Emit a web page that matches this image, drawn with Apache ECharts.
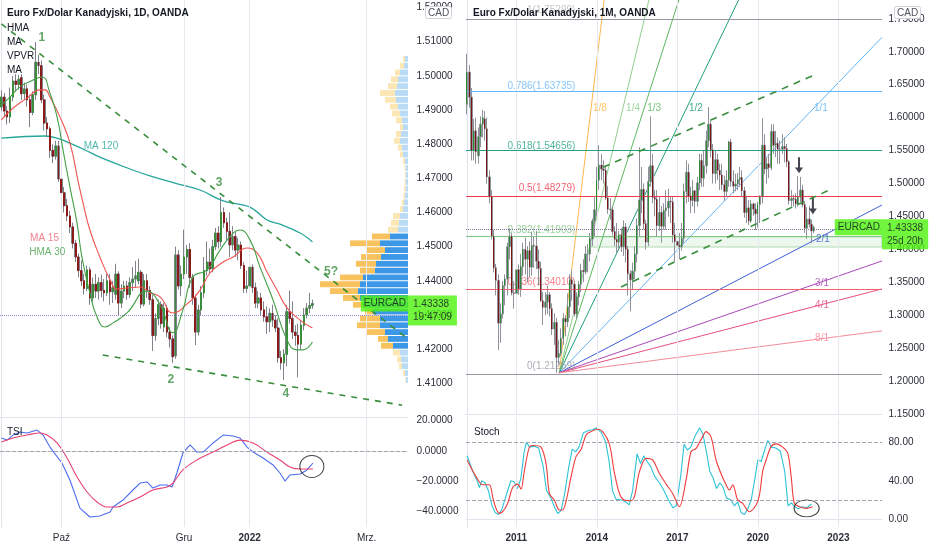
<!DOCTYPE html>
<html><head><meta charset="utf-8">
<script src="https://cdn.jsdelivr.net/npm/echarts@6/dist/echarts.min.js"></script>
<style>html,body{margin:0;padding:0;background:#fff}#c{width:932px;height:550px}</style>
</head><body><div id="c"></div>
<script>
// ---------------- LEFT PANEL (1D) ----------------
const leftStart = '2021-09-02';
const leftSlots = 143;
const leftTickIdx = [21, 64, 87, 128];
const leftTickText = ['Paź', 'Gru', '2022', 'Mrz.'];
// [open, close, low, high]
const leftOHLC = [
[1.4909,1.4938,1.4898,1.4958],[1.4938,1.4897,1.4880,1.4950],[1.4897,1.4880,1.4858,1.4912],[1.4880,1.4938,1.4862,1.4966],
[1.4938,1.4985,1.4925,1.5000],[1.4985,1.4975,1.4955,1.5005],[1.4975,1.4990,1.4960,1.5003],[1.4995,1.4948,1.4930,1.5005],
[1.4948,1.4962,1.4930,1.4980],[1.4962,1.4930,1.4910,1.4975],[1.4930,1.4893,1.4850,1.4945],[1.4893,1.4945,1.4885,1.4955],
[1.4945,1.5040,1.4930,1.5099],[1.5040,1.5030,1.5005,1.5062],[1.5030,1.4930,1.4920,1.5045],[1.4930,1.4862,1.4840,1.4945],
[1.4862,1.4845,1.4820,1.4880],[1.4845,1.4782,1.4760,1.4852],[1.4782,1.4765,1.4745,1.4800],[1.4765,1.4795,1.4755,1.4810],
[1.4795,1.4698,1.4690,1.4810],[1.4698,1.4658,1.4645,1.4715],[1.4658,1.4620,1.4600,1.4675],[1.4620,1.4590,1.4575,1.4640],
[1.4590,1.4558,1.4540,1.4605],[1.4558,1.4510,1.4495,1.4570],[1.4510,1.4470,1.4455,1.4520],[1.4470,1.4430,1.4410,1.4480],
[1.4430,1.4400,1.4385,1.4460],[1.4400,1.4378,1.4360,1.4420],[1.4378,1.4432,1.4370,1.4445],[1.4432,1.4350,1.4330,1.4440],
[1.4350,1.4390,1.4338,1.4410],[1.4390,1.4370,1.4350,1.4420],[1.4370,1.4395,1.4345,1.4410],[1.4395,1.4372,1.4352,1.4418],
[1.4372,1.4365,1.4340,1.4405],[1.4365,1.4400,1.4355,1.4420],[1.4400,1.4368,1.4330,1.4420],[1.4368,1.4380,1.4335,1.4400],
[1.4360,1.4420,1.4345,1.4450],[1.4420,1.4335,1.4300,1.4428],[1.4335,1.4370,1.4320,1.4390],[1.4370,1.4385,1.4350,1.4400],
[1.4385,1.4360,1.4345,1.4400],[1.4360,1.4395,1.4350,1.4410],[1.4395,1.4405,1.4370,1.4440],[1.4405,1.4415,1.4380,1.4458],
[1.4400,1.4425,1.4390,1.4465],[1.4425,1.4332,1.4320,1.4432],[1.4332,1.4400,1.4325,1.4420],[1.4400,1.4372,1.4350,1.4420],
[1.4372,1.4345,1.4330,1.4385],[1.4345,1.4240,1.4195,1.4360],[1.4240,1.4290,1.4225,1.4305],[1.4290,1.4330,1.4270,1.4345],
[1.4330,1.4275,1.4260,1.4340],[1.4265,1.4320,1.4250,1.4335],[1.4320,1.4250,1.4235,1.4330],[1.4250,1.4230,1.4205,1.4265],
[1.4230,1.4178,1.4160,1.4240],[1.4180,1.4476,1.4172,1.4500],[1.4476,1.4385,1.4375,1.4490],[1.4385,1.4420,1.4355,1.4445],
[1.4420,1.4470,1.4405,1.4550],[1.4470,1.4492,1.4420,1.4505],[1.4492,1.4410,1.4380,1.4510],[1.4410,1.4350,1.4330,1.4420],
[1.4350,1.4250,1.4212,1.4360],[1.4250,1.4315,1.4240,1.4330],[1.4315,1.4365,1.4300,1.4385],[1.4365,1.4430,1.4350,1.4470],
[1.4430,1.4455,1.4415,1.4515],[1.4455,1.4435,1.4420,1.4495],[1.4435,1.4500,1.4425,1.4520],[1.4500,1.4540,1.4490,1.4555],
[1.4540,1.4515,1.4495,1.4560],[1.4515,1.4600,1.4500,1.4645],[1.4600,1.4570,1.4555,1.4615],[1.4570,1.4545,1.4520,1.4585],
[1.4545,1.4505,1.4470,1.4600],[1.4505,1.4530,1.4490,1.4560],[1.4530,1.4490,1.4470,1.4545],[1.4490,1.4505,1.4460,1.4525],
[1.4505,1.4445,1.4435,1.4515],[1.4445,1.4378,1.4365,1.4455],[1.4378,1.4385,1.4365,1.4430],[1.4385,1.4440,1.4375,1.4452],
[1.4440,1.4380,1.4365,1.4448],[1.4380,1.4335,1.4320,1.4395],[1.4335,1.4350,1.4320,1.4370],[1.4350,1.4315,1.4300,1.4365],
[1.4315,1.4295,1.4280,1.4340],[1.4295,1.4280,1.4245,1.4325],[1.4280,1.4305,1.4250,1.4320],[1.4305,1.4285,1.4265,1.4330],
[1.4285,1.4262,1.4250,1.4300],[1.4262,1.4175,1.4160,1.4290],[1.4175,1.4160,1.4140,1.4195],[1.4160,1.4185,1.4110,1.4200],
[1.4185,1.4310,1.4150,1.4330],[1.4310,1.4290,1.4275,1.4372],[1.4290,1.4250,1.4230,1.4340],[1.4250,1.4240,1.4210,1.4270],
[1.4240,1.4215,1.4118,1.4275],[1.4215,1.4270,1.4200,1.4285],[1.4270,1.4300,1.4255,1.4320],[1.4300,1.4320,1.4290,1.4335],
[1.4320,1.4328,1.4305,1.4365],[1.4328,1.43338,1.4318,1.4345]
];
const ma15 = [[0,1.4871],[4.1,1.4906],[9,1.4935],[13.5,1.4959],[15.3,1.4959],[17,1.4938],[20.5,1.4880],[24,1.4804],[26.8,1.4695],[28.6,1.4628],[31,1.4549],[34.5,1.4470],[38.1,1.4403],[40.5,1.4376],[44,1.4379],[48.6,1.4382],[52.1,1.4365],[55.6,1.4353],[60.1,1.4306],[65,1.4332],[69.6,1.4373],[73.1,1.4423],[77.7,1.4455],[81.2,1.4470],[86.1,1.4496],[89.6,1.4482],[93.1,1.4426],[96.6,1.4373],[100.1,1.4321],[104.7,1.4285],[109,1.4262]];
const hma30 = [[0,1.4915],[3,1.4938],[6.5,1.4968],[11.1,1.4988],[14.2,1.4997],[17,1.4950],[19.5,1.4880],[21.6,1.4783],[24,1.4675],[26.5,1.4569],[28.2,1.4470],[31,1.4365],[33.5,1.4294],[36.3,1.4265],[39.1,1.4277],[44,1.4306],[51,1.4370],[55.6,1.4330],[60.1,1.4248],[63.6,1.4315],[67.1,1.4411],[72.1,1.4432],[76.6,1.4490],[81.2,1.4540],[83.6,1.4549],[87.1,1.4520],[90.6,1.4441],[95.2,1.4344],[100.1,1.4227],[103.6,1.4198],[105.7,1.4198],[109,1.4221]];
const ma120 = [[0,1.4818],[15.3,1.4824],[20.5,1.4815],[24,1.4803],[29.3,1.4783],[34.5,1.4762],[43.3,1.4733],[52.1,1.4707],[60.8,1.4686],[69.6,1.4666],[77.7,1.4634],[87.1,1.4616],[93.1,1.4578],[97.6,1.4566],[104.7,1.4540],[109,1.4514]];
const trendUpperL = [[0,1.5152],[142,1.4233]];
const trendLowerL = [[35.5,1.4183],[140.4,1.4036]];
const waveText = ['1','2','3','4','5?'];
const waveAt = [[14.2,1.5111],[59.4,1.4110],[76.3,1.4686],[99.7,1.4069],[115.5,1.4426]];
const maLabelText = ['MA 120','MA 15','HMA 30'];
const maLabelAt = [[34.9,1.4795],[15.1,1.4526],[16.1,1.4485]];
const maLabelColor = ['#26a69a','#ef5f6f','#43a047'];
// volume profile (row low edge, up volume, down volume)
const vpStep = 0.002;
const vpLevels = [1.410,1.412,1.414,1.416,1.418,1.420,1.422,1.424,1.426,1.428,1.430,1.432,1.434,1.436,1.438,1.440,1.442,1.444,1.446,1.448,1.450,1.452,1.454,1.456,1.458,1.460,1.462,1.464,1.466,1.468,1.470,1.472,1.474,1.476,1.478,1.480,1.482,1.484,1.486,1.488,1.490,1.492,1.494,1.496,1.498,1.500,1.502,1.504];
const vpUp   = [2,3,6,7,8,15,20,23,28,28,35,45,48,50,48,45,33,32,27,23,28,18,10,9,8,5,4,3,2.5,2.5,2,2.5,3,5,6,8,7,5,6,8,10,12,13,11,10,8,4,3];
const vpDown = [0.5,2,3,4,7,12,10,18,23,20,8,10,17,28,40,23,15,20,20,18,30,18,10,8,7,3,2,1.5,1.5,1,1,1,2,3,4,6,5,3,6,8,8,11,15,9,7,5,4,2];
const vaLow = 1.420, vaHigh = 1.454;
const tsiLine = [[0,8.6],[2,7.2],[4.1,10.5],[6.5,12.5],[9,11.9],[12.5,13.8],[14.6,10.5],[17,2.6],[21.2,-7.9],[24,-19.1],[27.5,-37.6],[31,-43.5],[34.5,-42.8],[38.1,-40.2],[39.1,-36.9],[42.6,-32.3],[46.1,-25.7],[48.6,-21.1],[51,-20.4],[53.1,-24.4],[55.6,-22.4],[58,-22.4],[59.8,-23.7],[61.5,-14.5],[63.6,-1.3],[66.1,4.0],[68.5,-0.7],[70.7,-0.7],[74.2,5.3],[77.7,10.5],[81.2,9.9],[83.6,8.6],[86.1,2.6],[88.2,-0.7],[91.7,-4.6],[95.2,-9.2],[97.6,-14.5],[99.4,-19.8],[101.1,-15.8],[104.7,-15.2],[107.1,-12.5],[109.2,-7.9]];
const tsiSignal = [[0,5.9],[4.1,8.6],[9,10.5],[13.5,11.9],[16,10.5],[19.5,5.3],[23,-4.6],[26.5,-17.1],[30,-27.0],[33.5,-33.6],[37,-36.9],[40.5,-36.9],[44,-34.3],[48.6,-30.3],[53.1,-25.7],[58,-23.7],[60.1,-21.1],[63.6,-12.5],[68.5,-5.9],[74.2,-0.7],[79.1,4.0],[83.6,7.2],[88.2,5.3],[93.1,-0.7],[97.6,-5.9],[101.1,-10.5],[104.7,-11.9],[109.2,-11.9]];
const tsiCircle = [108.8, -10.2];
const lastPrice = 1.43338;

// ---------------- RIGHT PANEL (1M) ----------------
const rightStart = [2009, 3];
const rightSlots = 186;
const rightTickIdx = [22, 58, 94, 130, 166];
const rightTickText = ['2011', '2014', '2017', '2020', '2023'];
const rightOHLC = [
[1.620,1.669,1.605,1.697],[1.669,1.631,1.615,1.680],[1.631,1.550,1.535,1.645],[1.550,1.580,1.535,1.598],[1.580,1.548,1.530,1.600],
[1.542,1.571,1.530,1.585],[1.571,1.590,1.555,1.602],[1.590,1.600,1.570,1.612],[1.598,1.583,1.565,1.610],[1.583,1.510,1.500,1.600],
[1.510,1.480,1.470,1.520],[1.480,1.420,1.415,1.490],[1.420,1.372,1.365,1.430],[1.372,1.353,1.330,1.378],[1.353,1.288,1.247,1.362],
[1.288,1.302,1.258,1.318],[1.302,1.345,1.295,1.352],[1.345,1.355,1.315,1.362],[1.355,1.404,1.330,1.410],[1.404,1.420,1.385,1.432],
[1.420,1.334,1.330,1.425],[1.334,1.333,1.310,1.352],[1.333,1.369,1.320,1.375],[1.369,1.340,1.331,1.377],[1.340,1.374,1.328,1.393],
[1.374,1.400,1.360,1.410],[1.400,1.385,1.362,1.418],[1.385,1.398,1.350,1.405],[1.398,1.373,1.358,1.412],[1.373,1.406,1.360,1.427],
[1.406,1.405,1.372,1.420],[1.405,1.382,1.370,1.428],[1.382,1.371,1.345,1.400],[1.371,1.322,1.320,1.381],[1.322,1.312,1.285,1.335],
[1.312,1.320,1.300,1.335],[1.320,1.331,1.302,1.345],[1.331,1.310,1.298,1.335],[1.310,1.279,1.270,1.318],[1.279,1.289,1.255,1.303],
[1.289,1.236,1.2126,1.296],[1.236,1.242,1.225,1.262],[1.242,1.265,1.238,1.280],[1.265,1.295,1.255,1.303],[1.295,1.290,1.268,1.300],
[1.290,1.313,1.282,1.333],[1.313,1.354,1.296,1.362],[1.354,1.347,1.322,1.369],[1.347,1.302,1.298,1.352],[1.302,1.328,1.295,1.335],
[1.328,1.347,1.315,1.352],[1.347,1.368,1.335,1.378],[1.368,1.366,1.350,1.385],[1.366,1.393,1.362,1.405],[1.393,1.393,1.365,1.408],
[1.393,1.416,1.382,1.425],[1.416,1.443,1.405,1.447],[1.443,1.460,1.420,1.479],[1.460,1.505,1.450,1.525],[1.505,1.528,1.490,1.558],
[1.528,1.522,1.505,1.545],[1.522,1.520,1.500,1.535],[1.520,1.478,1.475,1.527],[1.478,1.461,1.454,1.496],[1.461,1.460,1.445,1.478],
[1.460,1.427,1.421,1.466],[1.427,1.415,1.405,1.435],[1.415,1.411,1.393,1.440],[1.411,1.422,1.400,1.428],[1.422,1.404,1.396,1.432],
[1.404,1.434,1.390,1.444],[1.434,1.400,1.380,1.440],[1.400,1.363,1.330,1.405],[1.363,1.354,1.306,1.368],[1.354,1.367,1.338,1.380],
[1.367,1.393,1.355,1.405],[1.393,1.436,1.380,1.447],[1.436,1.475,1.420,1.555],[1.475,1.491,1.455,1.525],[1.491,1.439,1.430,1.500],
[1.439,1.411,1.400,1.445],[1.411,1.503,1.405,1.525],[1.503,1.527,1.495,1.602],[1.527,1.479,1.470,1.545],[1.479,1.476,1.450,1.490],
[1.476,1.436,1.420,1.490],[1.436,1.456,1.428,1.480],[1.456,1.435,1.410,1.466],[1.435,1.459,1.430,1.470],[1.459,1.463,1.430,1.490],
[1.463,1.473,1.450,1.492],[1.473,1.472,1.440,1.480],[1.472,1.422,1.410,1.480],[1.422,1.412,1.381,1.440],[1.412,1.406,1.390,1.420],
[1.406,1.404,1.385,1.425],[1.404,1.417,1.398,1.440],[1.417,1.488,1.410,1.500],[1.488,1.517,1.470,1.535],[1.517,1.481,1.472,1.530],
[1.481,1.474,1.455,1.495],[1.474,1.489,1.465,1.505],[1.489,1.473,1.455,1.490],[1.473,1.501,1.465,1.510],[1.501,1.535,1.490,1.545],
[1.535,1.508,1.495,1.545],[1.508,1.527,1.495,1.550],[1.527,1.565,1.515,1.580],[1.565,1.590,1.555,1.616],[1.590,1.551,1.540,1.595],
[1.551,1.515,1.500,1.560],[1.515,1.536,1.500,1.550],[1.536,1.520,1.505,1.545],[1.520,1.513,1.490,1.530],[1.513,1.498,1.490,1.530],
[1.498,1.488,1.474,1.512],[1.488,1.505,1.480,1.520],[1.505,1.563,1.495,1.565],[1.563,1.503,1.495,1.568],[1.503,1.496,1.485,1.520],
[1.496,1.499,1.488,1.515],[1.499,1.506,1.490,1.516],[1.506,1.509,1.495,1.525],[1.509,1.489,1.480,1.520],[1.489,1.456,1.448,1.495],
[1.456,1.463,1.440,1.480],[1.463,1.443,1.437,1.475],[1.443,1.469,1.440,1.475],[1.469,1.461,1.451,1.471],[1.461,1.454,1.429,1.470],
[1.454,1.468,1.433,1.472],[1.468,1.480,1.440,1.482],[1.480,1.558,1.470,1.599],[1.558,1.522,1.514,1.575],[1.522,1.530,1.500,1.540],
[1.530,1.524,1.508,1.545],[1.524,1.579,1.520,1.590],[1.579,1.558,1.545,1.590],[1.558,1.561,1.540,1.580],[1.561,1.552,1.530,1.570],
[1.552,1.552,1.530,1.565],[1.552,1.556,1.545,1.575],[1.556,1.553,1.532,1.570],[1.553,1.533,1.525,1.560],[1.533,1.474,1.468,1.535],
[1.474,1.477,1.465,1.490],[1.477,1.476,1.465,1.483],[1.476,1.469,1.462,1.485],[1.469,1.480,1.465,1.511],[1.480,1.490,1.472,1.510],
[1.490,1.468,1.464,1.498],[1.468,1.432,1.425,1.473],[1.432,1.446,1.416,1.464],[1.446,1.438,1.433,1.466],[1.438,1.428,1.410,1.445],
[1.428,1.43338,1.4245,1.436]
];
const fibRatio = ['1','0.786','0.618','0.5','0.382','0.236','0'];
const fibPrice = [1.75299,1.63735,1.54656,1.48279,1.41903,1.34010,1.21259];
const fibColor = ['#9598a1','#64b5f6','#22a07f','#ef3b4c','#81c784','#f4606c','#9598a1'];
const fibLabelX = 48.4;
const boxFrom = [55.4, 1.41903], boxTo = [185.5, 1.4035];
const fanNames = ['1/8','1/4','1/3','1/2','1/1','2/1','3/1','4/1','8/1'];
const fanOrigin = [41.2, 1.21259];
const fanEnd = [[62.0,1.80],[82.8,1.80],[96.7,1.80],[124.4,1.80],[185.5,1.7220],[185.5,1.4673],[185.5,1.3824],[185.5,1.3399],[185.5,1.2763]];
const fanColor = ['#ffb74d','#8fcf8f','#5cb85f','#1f9e7a','#64b5f6','#3f5fd8','#ab47bc','#e94f7d','#f28b9a'];
const fanLabelAt = [[59.4,1.614],[74.2,1.614],[83.6,1.614],[102.3,1.614],[158.2,1.614],[159.1,1.4156],[158.7,1.349],[158.7,1.3156],[158.7,1.2656]];
const channelUpper = [[60.8,1.5247],[154.7,1.6641]];
const channelLower = [[68.8,1.3429],[163.6,1.4929]];
const arrowsAt = [[148.4,1.5277],[154.6,1.4656]];
const stochD = [[0,61.6],[4,44.3],[7,35.9],[10,35.9],[11.4,23.5],[12.9,11.4],[14.4,6.2],[15.9,7.9],[18.1,16.5],[20.4,33.2],[22.6,36.6],[24.1,31.4],[25.6,50.5],[27.8,75],[29.3,76.7],[33,75],[35.3,57.8],[36.8,26.8],[39,20],[41.2,9.7],[42.7,9.7],[44.2,18.4],[46.5,44.3],[48.7,65.1],[51,72.7],[53.2,87.6],[55.4,91.1],[58.4,93.5],[60.6,91.1],[63.6,78.4],[65.8,49],[68.1,26.8],[70.3,20],[73.3,19.3],[74.8,23.5],[77,49],[80,63.3],[83,61.6],[86,47.6],[89,36.6],[91.9,26.8],[94.9,13.1],[97.9,40.9],[100.1,70.2],[102.4,73.7],[105.3,85.9],[106.8,91.1],[109,85.9],[111.3,61.6],[113.5,47.6],[115.8,35.9],[117.3,30.4],[118.8,35.9],[121,20],[123.2,16.5],[126.2,7.9],[129.2,14.8],[130.7,25.1],[132.2,50.5],[133.7,61.6],[135.9,75.5],[138.1,78.4],[141.1,75],[143.4,68.5],[144.9,44.3],[146.3,16.5],[148.6,13.1],[151.6,11.4],[154.5,13.1]];
const stochK = [[0,66],[2.5,50],[4.5,40],[5.5,33],[6.5,40],[8,38],[9.5,30],[11,15],[12.5,7],[14,5],[15.5,10],[17.5,25],[19.5,40],[21,39],[22.5,32],[24,42],[25.5,70],[26.5,80],[28,75],[30,76],[32,74],[34,55],[35.5,30],[37.5,22],[39,13],[40.5,6],[42,9],[43.5,25],[45.5,55],[47,73],[48.5,70],[50,75],[52,90],[54,92],[56,93],[58,95],[60,90],[62,80],[63.5,60],[65,30],[66.5,21],[69,20],[71,18],[72.5,15],[74,30],[76,68],[77.5,58],[79,66],[80.5,60],[82,55],[84,44],[86,38],[88,30],[90,20],[92,12],[93.5,14],[95.5,45],[97,78],[98.5,72],[100,75],[102,87],[104,95],[105.5,88],[107,70],[108.5,50],[110,43],[111.5,32],[113,38],[114.5,33],[116,22],[118,20],[119.5,14],[121,18],[122.5,7],[124,5],[125.5,11],[127,20],[128.5,40],[130,62],[131.5,60],[133,72],[134.5,82],[136,75],[138,74],[140,71],[142,50],[143.5,14],[145,17],[146.5,13],[148,11],[150,13],[152,12],[154,16]];
const stochCircle = [151.8, 11.4];
const stochBands = [80, 20];

// ---------------- helpers ----------------
const FONT = "'Liberation Sans', Arial, sans-serif";
const GRIDC = '#e6e8ee', EDGE = '#e0e3eb', TXT = '#2a2e39', LIME = '#4df20c';
function weekdays(start, n) {
  const out = []; const d = new Date(start + 'T00:00:00Z');
  while (out.length < n) { const w = d.getUTCDay(); if (w !== 0 && w !== 6) out.push(d.toISOString().slice(0, 10)); d.setUTCDate(d.getUTCDate() + 1); }
  return out;
}
function months(ym, n) {
  const out = []; let y = ym[0], m = ym[1];
  for (let k = 0; k < n; k++) { out.push(y + '-' + String(m).padStart(2, '0')); m++; if (m > 12) { m = 1; y++; } }
  return out;
}
function bodies(rows) { return rows.map(r => [r[0], r[1], Math.min(r[0], r[1]), Math.max(r[0], r[1])]); }
function vgrid(xi, yi, ticks) {
  return { type: 'line', xAxisIndex: xi, yAxisIndex: yi, data: [], z: 1, silent: true,
    markLine: { silent: true, animation: false, symbol: ['none', 'none'], label: { show: false },
      lineStyle: { color: GRIDC, width: 1, type: 'solid' }, data: ticks.map(t => ({ xAxis: t })) } };
}
function hlines(xi, yi, vals, color, type, z) {
  return { type: 'line', xAxisIndex: xi, yAxisIndex: yi, data: [], z: z || 2, silent: true,
    markLine: { silent: true, animation: false, symbol: ['none', 'none'], label: { show: false },
      lineStyle: { color: color, width: 1, type: type }, data: vals.map(v => ({ yAxis: v })) } };
}
function line(xi, yi, data, color, width, z, extra) {
  return Object.assign({ type: 'line', xAxisIndex: xi, yAxisIndex: yi, data: data, symbol: 'none', silent: true, z: z,
    lineStyle: { color: color, width: width }, animation: false }, extra || {});
}
function texts(xi, yi, items, z) {
  return { type: 'scatter', xAxisIndex: xi, yAxisIndex: yi, symbolSize: 0, silent: true, clip: false, z: z,
    data: items.map(it => ({ value: it.at, label: Object.assign({ show: true, formatter: it.t, position: 'inside',
      color: it.c, fontSize: 10, fontFamily: FONT, distance: 0 }, it.lab || {}) })) };
}
function catX(grid, cats, tickIdx, tickText, showLabels, bold) {
  return { type: 'category', gridIndex: grid, data: cats, boundaryGap: true,
    axisLine: { show: true, lineStyle: { color: EDGE } }, axisTick: { show: false }, splitLine: { show: false },
    axisLabel: { show: showLabels, interval: (i) => tickIdx.indexOf(i) >= 0, margin: 6,
      formatter: (v, i) => { const k = tickIdx.indexOf(i); if (k < 0) return ''; const t = tickText[k]; return bold(t) ? '{b|' + t + '}' : t; },
      color: TXT, fontSize: 10, fontFamily: FONT, rich: { b: { fontWeight: 'bold', fontSize: 10, color: TXT, fontFamily: FONT } } } };
}
function valX(grid, n) { return { type: 'value', gridIndex: grid, min: -0.5, max: n - 0.5, show: false }; }
function priceY(grid, min, max, extra, fmt, margin) {
  return Object.assign({ type: 'value', gridIndex: grid, position: 'right', min: min, max: max, scale: true,
    axisLine: { show: true, lineStyle: { color: EDGE } }, axisTick: { show: false }, splitLine: { show: false },
    axisLabel: { showMinLabel: false, showMaxLabel: false, margin: margin, color: TXT, fontSize: 10, fontFamily: FONT, formatter: fmt } }, extra);
}

const leftCats = weekdays(leftStart, leftSlots);
const rightCats = months(rightStart, rightSlots);
const isYear = t => /^\d{4}$/.test(t);

const candleGray = (xi, yi, data, w, fill, edge, z) => ({ type: 'candlestick', xAxisIndex: xi, yAxisIndex: yi, data: data, barWidth: w, silent: true, z: z,
  itemStyle: { color: fill, color0: fill, borderColor: edge, borderColor0: edge, borderWidth: 1 } });
const candleBody = (xi, yi, data, w, up, dn, z) => ({ type: 'candlestick', xAxisIndex: xi, yAxisIndex: yi, data: bodies(data), barWidth: w, silent: true, z: z,
  itemStyle: { color: up, color0: dn, borderColor: up, borderColor0: dn, borderWidth: 1 } });

const vpRender = function (params, api) {
  const p = api.value(0), up = api.value(1), dn = api.value(2);
  const base = api.coord([0, p]); const top = api.coord([0, p + vpStep]);
  const u = api.coord([up, p]); const d = api.coord([up + dn, p]);
  const y = top[1] + 0.5, h = Math.max(0.6, base[1] - top[1] - 1);
  const inVA = p >= vaLow - 1e-9 && p < vaHigh - 1e-9;
  return { type: 'group', children: [
    { type: 'rect', shape: { x: u[0], y: y, width: base[0] - u[0], height: h }, style: { fill: inVA ? '#3c98e6' : '#b9dbf6' } },
    { type: 'rect', shape: { x: d[0], y: y, width: u[0] - d[0], height: h }, style: { fill: inVA ? '#f8c35e' : '#fce6b4' } }
  ] };
};

const series = [
  // ===== left price pane =====
  vgrid(1, 0, leftTickIdx),
  { type: 'custom', xAxisIndex: 4, yAxisIndex: 0, z: 2, silent: true, renderItem: vpRender,
    encode: { x: [1, 2], y: 0 }, data: vpLevels.map((p, k) => [p, vpUp[k], vpDown[k]]) },
  line(1, 0, ma120, '#26a69a', 1.3, 3, { smooth: 0.4 }),
  candleGray(0, 0, leftOHLC, '75%', '#a9acb3', '#7f828b', 4),
  candleBody(0, 0, leftOHLC, '50%', '#3a8d3a', '#8b1a1a', 5),
  line(1, 0, ma15, '#ef5350', 1.1, 6, { smooth: 0.5 }),
  line(1, 0, hma30, '#43a047', 1.1, 6, { smooth: 0.5 }),
  line(1, 0, trendUpperL, '#388e3c', 1.6, 6, { lineStyle: { color: '#388e3c', width: 1.6, type: [6, 6] } }),
  line(1, 0, trendLowerL, '#388e3c', 1.6, 6, { lineStyle: { color: '#388e3c', width: 1.6, type: [6, 6] } }),
  hlines(1, 0, [lastPrice], '#9a86d6', 'dotted', 6),
  texts(1, 0, waveText.map((t, k) => ({ at: waveAt[k], t: t, c: '#388e3c', lab: { fontSize: 12, fontWeight: 'bold' } })), 7),
  texts(1, 0, maLabelText.map((t, k) => ({ at: maLabelAt[k], t: t, c: maLabelColor[k], lab: { fontSize: 10 } })), 7),
  texts(1, 0, [{ at: [leftSlots - 0.5, lastPrice], t: 'EURCAD', c: '#131722', lab: { position: 'left', backgroundColor: LIME, padding: [3, 2, 3, 3] } }], 9),
  texts(1, 0, [{ at: [leftSlots - 0.5, lastPrice], t: '1.43338\n19:47:09', c: '#131722', lab: { position: 'right', backgroundColor: LIME, padding: [2, 5, 2, 5], lineHeight: 13, offset: [0, 7], align: 'left' } }], 9),

  // ===== left TSI pane =====
  vgrid(3, 1, leftTickIdx),
  hlines(3, 1, [0], '#a3a6af', 'dashed', 2),
  line(3, 1, tsiLine, '#4d6cf0', 1.1, 4),
  line(3, 1, tsiSignal, '#e8436f', 1.1, 4, { smooth: 0.4 }),
  { type: 'scatter', xAxisIndex: 3, yAxisIndex: 1, silent: true, clip: false, z: 6, symbol: 'circle', symbolSize: [24, 22],
    itemStyle: { color: 'rgba(0,0,0,0)', borderColor: '#111', borderWidth: 1 }, data: [tsiCircle] },

  // ===== right price pane =====
  vgrid(6, 2, rightTickIdx),
  { type: 'line', xAxisIndex: 6, yAxisIndex: 2, data: [], z: 2, silent: true,
    markLine: { silent: true, animation: false, symbol: ['none', 'none'], label: { show: false },
      data: fibPrice.map((p, k) => ({ yAxis: p, lineStyle: { color: fibColor[k], width: k === 0 || k === 6 ? 1.2 : 1, type: 'solid' } })) },
    markArea: { silent: true, itemStyle: { color: 'rgba(129,199,132,0.14)', borderColor: 'rgba(129,199,132,0.6)', borderWidth: 1 },
      data: [[{ xAxis: boxFrom[0], yAxis: boxFrom[1] }, { xAxis: boxTo[0], yAxis: boxTo[1] }]] } },
  ...fanNames.map((n, k) => line(6, 2, [fanOrigin, fanEnd[k]], fanColor[k], 1, 3, { clip: true })),
  candleGray(5, 2, rightOHLC, '85%', '#bdbfc5', '#8f929a', 4),
  candleBody(5, 2, rightOHLC, '45%', '#2f8a34', '#7a1515', 5),
  line(6, 2, channelUpper, '#388e3c', 1.6, 6, { lineStyle: { color: '#388e3c', width: 1.6, type: [7, 6] } }),
  line(6, 2, channelLower, '#388e3c', 1.6, 6, { lineStyle: { color: '#388e3c', width: 1.6, type: [7, 6] } }),
  hlines(6, 2, [lastPrice], '#7d7397', 'dotted', 6),
  texts(6, 2, fibRatio.map((r, k) => ({ at: [fibLabelX, fibPrice[k]], t: r + '(' + fibPrice[k].toFixed(5) + ')',
    c: k === 0 ? '#b8bac0' : fibColor[k], lab: { position: 'left', offset: [0, -7], fontSize: 10 } })), 3),
  texts(6, 2, fanNames.map((n, k) => ({ at: fanLabelAt[k], t: n, c: fanColor[k], lab: { fontSize: 10, opacity: 0.85 } })), 6),
  { type: 'scatter', xAxisIndex: 6, yAxisIndex: 2, silent: true, clip: false, z: 7,
    symbol: 'path://M3,0 L5,0 L5,11 L8,11 L4,17 L0,11 L3,11 Z', symbolSize: [8, 16],
    itemStyle: { color: '#131722' }, data: arrowsAt },
  texts(6, 2, [{ at: [rightSlots - 0.5, lastPrice], t: 'EURCAD', c: '#131722', lab: { position: 'left', backgroundColor: LIME, padding: [3, 2, 3, 3] } }], 9),
  texts(6, 2, [{ at: [rightSlots - 0.5, lastPrice], t: '1.43338\n25d 20h', c: '#131722', lab: { position: 'right', backgroundColor: LIME, padding: [2, 5, 2, 5], lineHeight: 13, offset: [0, 7], align: 'left' } }], 9),

  // ===== right Stoch pane =====
  vgrid(8, 3, rightTickIdx),
  hlines(8, 3, stochBands, '#a3a6af', 'dashed', 2),
  line(8, 3, stochK, '#2cc3d6', 1.1, 4),
  line(8, 3, stochD, '#ef3b3b', 1.1, 5, { smooth: 0.3 }),
  { type: 'scatter', xAxisIndex: 8, yAxisIndex: 3, silent: true, clip: false, z: 6, symbol: 'circle', symbolSize: [25, 17],
    itemStyle: { color: 'rgba(0,0,0,0)', borderColor: '#111', borderWidth: 1 }, data: [stochCircle] }
];

const tTitle = { fontSize: 10, fontWeight: 'bold', color: '#131722', fontFamily: FONT };
const tNorm = { fontSize: 10, fontWeight: 'normal', color: '#131722', fontFamily: FONT };
const cadBox = (x) => ({ text: 'CAD', left: x, top: 6, padding: [2, 3, 1, 3], borderColor: '#cfd2da', borderWidth: 1, borderRadius: 2,
  backgroundColor: '#fff', textStyle: { fontSize: 10, fontWeight: 'normal', color: '#50535e', fontFamily: FONT } });

const option = {
  animation: false,
  backgroundColor: '#ffffff',
  textStyle: { fontFamily: FONT },
  title: [
    { text: 'Euro Fx/Dolar Kanadyjski, 1D, OANDA', left: 7, top: 8, padding: 0, textStyle: tTitle },
    { text: 'HMA', left: 7, top: 23, padding: 0, textStyle: tNorm },
    { text: 'MA', left: 7, top: 37, padding: 0, textStyle: tNorm },
    { text: 'VPVR', left: 7, top: 51, padding: 0, textStyle: tNorm },
    { text: 'MA', left: 7, top: 65, padding: 0, textStyle: tNorm },
    { text: 'Euro Fx/Dolar Kanadyjski, 1M, OANDA', left: 473, top: 8, padding: 0, textStyle: tTitle },
    { text: 'TSI', left: 7, top: 427, padding: 0, textStyle: tNorm },
    { text: 'Stoch', left: 474, top: 427, padding: 0, textStyle: tNorm },
    cadBox(425), cadBox(894)
  ],
  grid: [
    { left: 0, top: 0, width: 408, height: 417.5, containLabel: false, outerBoundsMode: 'none' },
    { left: 0, top: 417.5, width: 408, height: 109.5, containLabel: false, outerBoundsMode: 'none' },
    { left: 466, top: 0, width: 416, height: 414, containLabel: false, outerBoundsMode: 'none' },
    { left: 466, top: 417, width: 416, height: 110, containLabel: false, outerBoundsMode: 'none' }
  ],
  xAxis: [
    catX(0, leftCats, leftTickIdx, leftTickText, false, isYear),      // 0
    valX(0, leftSlots),                                              // 1
    catX(1, leftCats, leftTickIdx, leftTickText, true, isYear),       // 2
    valX(1, leftSlots),                                              // 3
    { type: 'value', gridIndex: 0, min: 0, max: 408, inverse: true, show: false }, // 4 VPVR
    catX(2, rightCats, rightTickIdx, rightTickText, false, isYear),   // 5
    valX(2, rightSlots),                                             // 6
    catX(3, rightCats, rightTickIdx, rightTickText, true, isYear),    // 7
    valX(3, rightSlots)                                              // 8
  ],
  yAxis: [
    priceY(0, 1.40, 1.52222, { interval: 0.01 }, v => v.toFixed(5), 8.5),
    priceY(1, -50.08, 22.08, { minInterval: 20, maxInterval: 20, splitNumber: 3 }, v => v.toFixed(4).replace('-', '\u2212'), 8.5),
    priceY(2, 1.15, 1.7786, { interval: 0.05 }, v => v.toFixed(5), 6.5),
    priceY(3, -8, 106.3, { minInterval: 40, maxInterval: 40, splitNumber: 3 }, v => v.toFixed(2), 6.5)
  ],
  series: series
};
option.yAxis[2].axisLabel.showMinLabel = true;

const chart = echarts.init(document.getElementById('c'), null, { renderer: 'canvas' });
chart.setOption(option);
</script>
</body></html>
